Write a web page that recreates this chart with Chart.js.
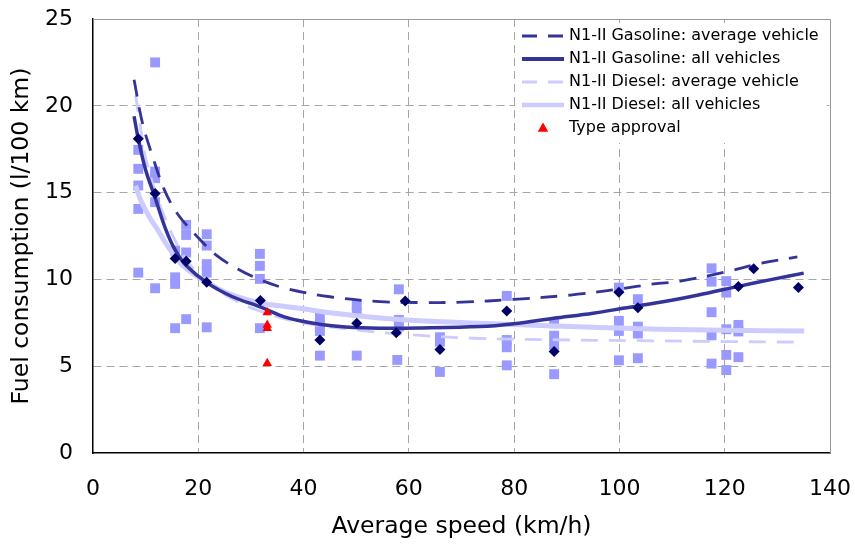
<!DOCTYPE html>
<html><head><meta charset="utf-8">
<script src="https://cdn.jsdelivr.net/npm/chart.js@4"></script>
<style>html,body{margin:0;padding:0;background:#fff}#wrap{width:855px;height:544px}</style>
</head><body><div id="wrap"><canvas id="c" width="855" height="544"></canvas></div>
<script>
// Measured N1-II vehicles (squares)
const squareX = [8.6,8.6,8.6,8.6,8.6, 11.8,11.8,11.8,11.8,11.8, 15.6,15.6,15.6,15.6, 17.7,17.7,17.7,17.7,
  21.6,21.6,21.6,21.6,21.6, 31.7,31.7,31.7,31.7, 43.1,43.1,43.1,43.1, 50.1,50.1,50.1,
  58.1,58.1,58.1,57.8, 65.9,65.9,65.9, 78.6,78.6,78.6,78.6, 87.6,87.6,87.6,87.6,
  99.9,99.9,99.9,99.9, 103.5,103.5,103.5,103.5, 117.5,117.5,117.5,117.5,117.5,
  120.3,120.3,120.3,120.3,120.3, 122.6,122.6,122.6];
const squareY = [17.46,16.37,15.41,14.06,10.39, 22.5,16.21,15.83,14.45,9.49, 11.66,10.12,9.74,7.19, 13.14,12.56,11.55,7.71,
  12.6,11.95,10.88,10.39,7.24, 11.47,10.78,10.03,7.19, 7.82,7.41,7.03,5.61, 8.53,8.11,5.61,
  9.43,7.67,7.28,5.36, 6.67,6.42,4.67, 9.05,6.51,6.09,5.05, 7.47,6.76,6.22,4.54,
  9.53,7.61,7.03,5.34, 8.86,7.28,6.88,5.46, 10.64,9.87,8.11,6.78,5.15,
  9.9,9.24,7.13,5.65,4.78, 7.38,7.0,5.52];
// Average vehicle per cycle (diamonds)
const diamondX = [8.6,11.8,15.6,17.7,21.6,31.8,43.1,50.1,57.6,59.3,65.9,78.6,87.6,99.9,103.5,122.6,125.5,134];
const diamondY = [18.1,14.95,11.2,11.05,9.84,8.78,6.51,7.47,6.93,8.76,5.96,8.18,5.84,9.26,8.36,9.59,10.62,9.53];
// Type approval (triangles)
const triX = [33.1,33.1,33.1,33.1];
const triY = [8.1,7.38,7.19,5.17];
// Trend curves
const gasAvgX = [7.8,9.4,11.3,13.5,16,20,23.4,27.5,32,37,45,54.5,62,70,80,90.7,100,106.5,111.6,120.5,126.9,133.8];
const gasAvgY = [21.5,19.0,17.1,15.2,13.8,12.4,11.4,10.6,9.95,9.45,9.0,8.72,8.67,8.69,8.85,9.1,9.45,9.74,9.9,10.45,10.93,11.3];
const gasAllX = [7.8,8.6,10,11.7,13.8,15.6,17.7,21.7,26.5,31.6,37,43,48,54.5,62,73.5,80,87.5,95,101,108,115,122.6,129,135];
const gasAllY = [19.4,18.1,16.3,14.8,12.9,11.7,10.8,9.8,9.0,8.43,7.78,7.42,7.26,7.19,7.2,7.28,7.45,7.76,8.05,8.35,8.7,9.1,9.6,10.0,10.36];
const dieAvgX = [8.1,8.8,10,12,14,16,18,21.7,26,31,38.6,50,60.8,72.3,90.7,106.5,120,135];
const dieAvgY = [20.6,19.2,17.0,14.9,13.3,12.0,11.0,9.85,8.95,8.25,7.57,7.09,6.8,6.61,6.51,6.46,6.42,6.38];
const dieAllX = [8.1,9,10.7,12.3,14,17,21.8,26,31.6,35.4,39.2,45,54.5,63,73.5,90.7,107.8,120,135.1];
const dieAllY = [15.4,14.6,13.6,12.85,12.0,10.8,9.8,9.15,8.65,8.48,8.34,8.08,7.78,7.6,7.48,7.28,7.13,7.07,7.03];
const xTicks = [0,20,40,60,80,100,120,140];
const yTicks = [0,5,10,15,20,25];

const DARK = '#333399', LIGHT = '#CCCCFF', SQ = '#9999FF', DIA = '#000066';
const pts = (xs, ys) => xs.map((x, i) => ({x, y: ys[i]}));
const FONT = 'DejaVu Sans';

const curve = (label, xs, ys, color, width, dash, order) => ({
  label, data: pts(xs, ys), showLine: true, borderColor: color, backgroundColor: color,
  borderWidth: width, borderDash: dash, pointRadius: 0, tension: 0.35,
  order, borderCapStyle: 'butt'
});

const legendItems = [
  {text: 'N1-II Gasoline: average vehicle', color: DARK, width: 3, dash: [15, 11]},
  {text: 'N1-II Gasoline: all vehicles', color: DARK, width: 4, dash: []},
  {text: 'N1-II Diesel: average vehicle', color: LIGHT, width: 3, dash: [15, 11]},
  {text: 'N1-II Diesel: all vehicles', color: LIGHT, width: 4.5, dash: []},
  {text: 'Type approval', marker: 'triangle'}
];

const framePlugin = {
  id: 'frame',
  beforeDatasetsDraw(chart) {
    const {ctx, chartArea: a} = chart;
    ctx.save();
    ctx.strokeStyle = '#999999'; ctx.lineWidth = 1;
    ctx.beginPath();
    ctx.moveTo(a.left, a.top + 0.5); ctx.lineTo(a.right + 0.5, a.top + 0.5); ctx.lineTo(a.right + 0.5, a.bottom);
    ctx.stroke();
    ctx.restore();
  },
  afterDraw(chart) {
    const {ctx, chartArea: a} = chart;
    ctx.save();
    const bx = a.right - 315, by = a.top + 4, bw = 312, bh = 120;
    ctx.fillStyle = '#ffffff';
    ctx.fillRect(bx, by, bw, bh);
    ctx.font = '16px "' + FONT + '"';
    ctx.textBaseline = 'middle';
    legendItems.forEach((it, i) => {
      const y = by + 13 + i * 23;
      const x0 = bx + 7, x1 = bx + 49;
      if (it.marker === 'triangle') {
        ctx.fillStyle = '#FF0000';
        ctx.beginPath();
        const r = 5.5, cx = (x0 + x1) / 2;
        ctx.moveTo(cx, y - r); ctx.lineTo(cx + r * 0.95, y + r * 0.7); ctx.lineTo(cx - r * 0.95, y + r * 0.7); ctx.closePath();
        ctx.fill();
      } else {
        ctx.strokeStyle = it.color; ctx.lineWidth = it.width; ctx.setLineDash(it.dash);
        ctx.beginPath(); ctx.moveTo(x0, y); ctx.lineTo(x1, y); ctx.stroke();
        ctx.setLineDash([]);
      }
      ctx.fillStyle = '#000';
      ctx.fillText(it.text, bx + 54, y);
    });
    ctx.restore();
  }
};

const gridColor = (ctx, lo, hi) => (ctx.tick && (ctx.tick.value === lo || ctx.tick.value === hi)) ? 'rgba(0,0,0,0)' : '#A6A6A6';

new Chart(document.getElementById('c'), {
  type: 'scatter',
  data: {
    datasets: [
      {label: 'Type approval', data: pts(triX, triY), pointStyle: 'triangle', pointRadius: 5.5, backgroundColor: '#FF0000', borderColor: '#FF0000', borderWidth: 0, order: 0},
      {label: 'Average', data: pts(diamondX, diamondY), pointStyle: 'rectRot', pointRadius: 5.5, backgroundColor: DIA, borderColor: DIA, borderWidth: 0, order: 1},
      curve('N1-II Gasoline: average vehicle', gasAvgX, gasAvgY, DARK, 2.8, [17, 11], 2),
      curve('N1-II Gasoline: all vehicles', gasAllX, gasAllY, DARK, 3.5, [], 3),
      curve('N1-II Diesel: average vehicle', dieAvgX, dieAvgY, LIGHT, 2.8, [17, 11], 4),
      curve('N1-II Diesel: all vehicles', dieAllX, dieAllY, LIGHT, 5, [], 5),
      {label: 'Vehicles', data: pts(squareX, squareY), pointStyle: 'rect', pointRadius: 7, backgroundColor: SQ, borderColor: SQ, borderWidth: 0, order: 6}
    ]
  },
  options: {
    responsive: false, animation: false,
    layout: {padding: {left: 0, right: 25, top: 19, bottom: 0}},
    plugins: {legend: {display: false}, tooltip: {enabled: false}},
    scales: {
      x: {
        type: 'linear', min: 0, max: 140,
        afterBuildTicks: s => { s.ticks = xTicks.map(v => ({value: v})); },
        afterFit: s => { s.height = 91; s.paddingLeft = 0; s.paddingRight = 0; },
        ticks: {font: {family: FONT, size: 22}, color: '#000', padding: 23, maxRotation: 0},
        grid: {color: c => gridColor(c, 0, 140), lineWidth: 1, drawTicks: false},
        border: {display: true, color: '#000', width: 1.5, dash: [8, 5]},
        title: {display: true, text: 'Average speed (km/h)', font: {family: FONT, size: 23.5}, color: '#000', padding: {top: 0, bottom: 3}}
      },
      y: {
        type: 'linear', min: 0, max: 25,
        afterBuildTicks: s => { s.ticks = yTicks.map(v => ({value: v})); },
        afterFit: s => { s.width = 93; s.paddingTop = 0; s.paddingBottom = 0; },
        ticks: {font: {family: FONT, size: 22}, color: '#000', padding: 20},
        grid: {color: c => gridColor(c, 0, 25), lineWidth: 1, drawTicks: false},
        border: {display: true, color: '#000', width: 1.5, dash: [8, 5]},
        title: {display: true, text: 'Fuel consumption (l/100 km)', font: {family: FONT, size: 23.5}, color: '#000', padding: {top: 8, bottom: 0}}
      }
    }
  },
  plugins: [framePlugin]
});
</script>
</body></html>
